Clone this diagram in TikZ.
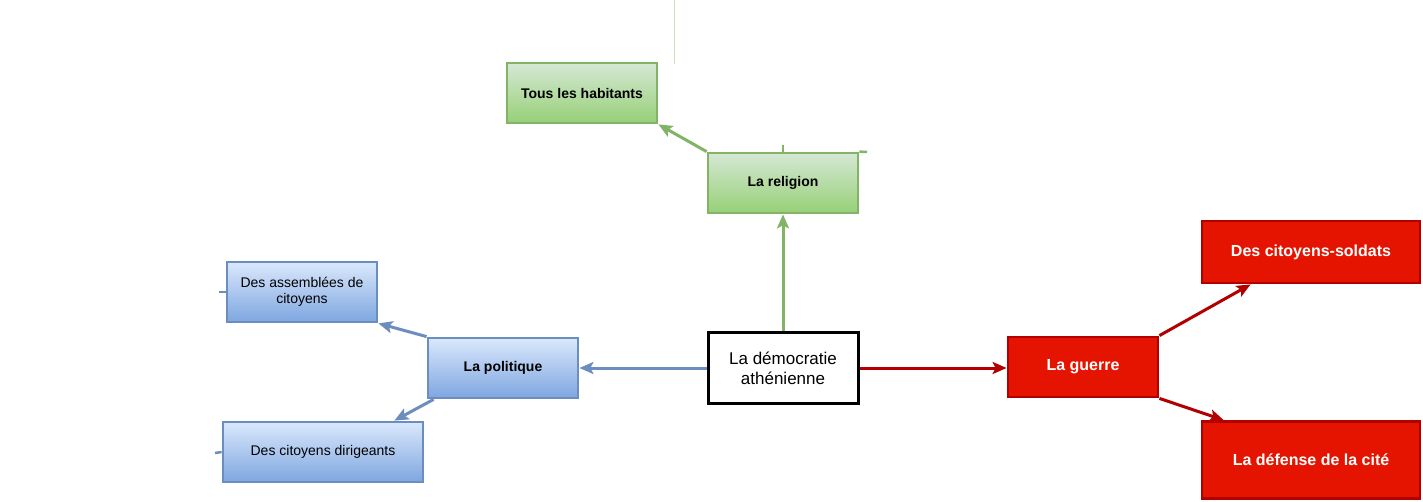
\documentclass[tikz,border=0pt]{standalone}
\usepackage{fontspec}
\setmainfont{Liberation Sans}
\usetikzlibrary{arrows.meta}
\definecolor{greenline}{HTML}{82B366}
\definecolor{greentop}{HTML}{D5E8D4}
\definecolor{greenbot}{HTML}{97D077}
\definecolor{blueline}{HTML}{6C8EBF}
\definecolor{bluetop}{HTML}{DAE8FC}
\definecolor{bluebot}{HTML}{7EA6E0}
\definecolor{redfill}{HTML}{E51400}
\definecolor{redline}{HTML}{B20000}
\def\small{\fontsize{14}{16}\selectfont}
\def\big{\fontsize{16}{19}\selectfont}
\begin{document}
\begin{tikzpicture}[x=1pt, y=-1pt,
	box/.style={minimum width=150pt, minimum height=60pt, inner sep=0pt, line width=2.8pt, align=center},
	greenbox/.style={box, draw=greenline, top color=greentop, bottom color=greenbot, font=\small\bfseries},
	bluebox/.style={box, draw=blueline, top color=bluetop, bottom color=bluebot, font=\small},
	redbox/.style={box, draw=redline, fill=redfill, text=white, font=\big\bfseries},
	greenarrow/.style={draw=greenline, line width=3pt, -{Stealth[length=14pt, width=12pt, inset=3pt]}},
	bluearrow/.style={draw=blueline, line width=3pt, -{Stealth[length=14pt, width=12pt, inset=3pt]}},
	redarrow/.style={draw=redline, line width=3pt, -{Stealth[length=14pt, width=12pt, inset=3pt]}}]
	\useasboundingbox (0,0) rectangle (1423,502);
	% faint stray lines
	\draw [greenline!40, line width=1pt] (674,0) -- (674,64);
	% centre
	\node [box, draw=black, fill=white, minimum height=71pt, line width=3pt, font=\fontsize{17}{20}\selectfont] (demo) at (783,368) {La démocratie\\athénienne};
	% religion
	\node [greenbox] (religion) at (783,183) {La religion};
	\node [greenbox] (habitants) at (582,93) {Tous les habitants};
	% politique
	\node [greenbox, draw=blueline, top color=bluetop, bottom color=bluebot] (politique) at (503,368) {La politique};
	\node [bluebox] (assemblees) at (302,292) {Des assemblées de\\citoyens};
	\node [bluebox, minimum width=200pt] (dirigeants) at (323,452) {Des citoyens dirigeants};
	% guerre
	\node [redbox] (guerre) at (1083,367) {La guerre};
	\node [redbox, minimum width=218pt, minimum height=62pt] (soldats) at (1311,252) {Des citoyens-soldats};
	\node [redbox, minimum width=218pt, minimum height=77pt] (defense) at (1311,460) {La défense de la cité};
	% connectors
	\draw [greenarrow] (demo) -- (religion);
	\draw [greenarrow] (religion.north west) -- (habitants.south east);
	\draw [bluearrow] (demo) -- (politique);
	\draw [bluearrow] (politique.north west) -- (assemblees.south east);
	\draw [bluearrow] ([xshift=7pt]politique.south west) -- ([xshift=-30pt]dirigeants.north east);
	\draw [redarrow] (demo.east) -- (guerre.west |- demo.east);
	\draw [redarrow] (guerre.north east) -- ([xshift=50pt]soldats.south west);
	\draw [redarrow] (guerre.south east) -- ([xshift=23pt]defense.north west);
	% stubs
	\coordinate (stubA) at (219,292);
	\coordinate (stubB) at (215,453);
	\coordinate (stubC) at (783,145);
	\coordinate (stubD) at (867,152);
	\draw [blueline, line width=2.5pt] (assemblees.west) -- (stubA);
	\draw [blueline, line width=2.5pt] (dirigeants.west) -- (stubB);
	\draw [greenline, line width=2.5pt] (religion.north) -- (stubC);
	\draw [greenline, line width=2.5pt] (religion.north east) -- (stubD);
\end{tikzpicture}
\end{document}
